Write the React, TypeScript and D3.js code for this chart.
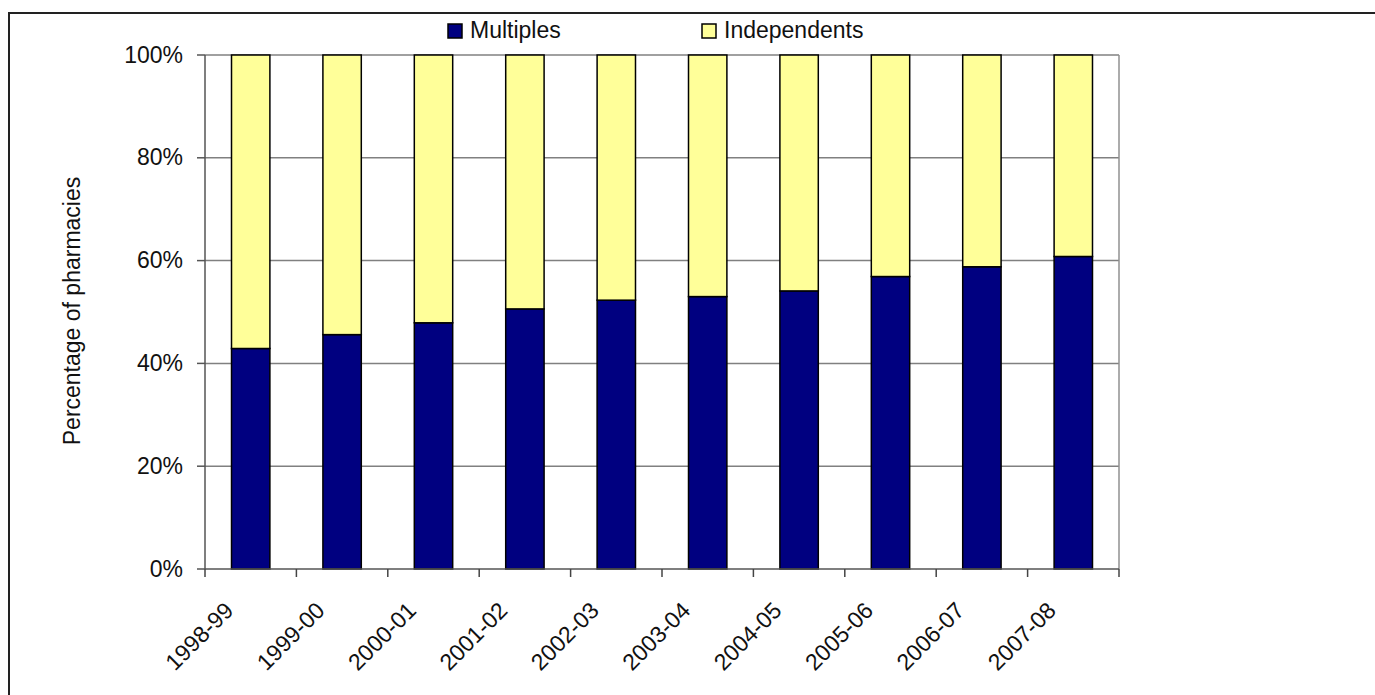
import React, { useEffect, useRef } from "react";
import * as d3 from "d3";

const years = [
  "1998-99",
  "1999-00",
  "2000-01",
  "2001-02",
  "2002-03",
  "2003-04",
  "2004-05",
  "2005-06",
  "2006-07",
  "2007-08",
];
const multiples = [42.9, 45.6, 47.9, 50.6, 52.3, 53.0, 54.1, 56.9, 58.8, 60.8];
const independents = [57.1, 54.4, 52.1, 49.4, 47.7, 47.0, 45.9, 43.1, 41.2, 39.2];
const yTicks = [0, 20, 40, 60, 80, 100];

const width = 1375;
const height = 695;
const font = "'Liberation Sans', Arial, sans-serif";

export default function App() {
  const ref = useRef<SVGSVGElement>(null);

  useEffect(() => {
    if (!ref.current) return;
    const svg = d3.select(ref.current);
    svg.selectAll("*").remove();

    const left = 205;
    const right = 1119;
    const top = 55;
    const bottom = 569;

    const x = d3.scaleBand().domain(years).range([left, right]).paddingInner(0.58).paddingOuter(0.29);
    const band = d3.scaleBand().domain(years).range([left, right]);
    const y = d3.scaleLinear().domain([0, 100]).range([bottom, top]);

    // outer chart border, cut off at right and bottom
    svg
      .append("rect")
      .attr("x", 9)
      .attr("y", 13)
      .attr("width", 1420)
      .attr("height", 720)
      .attr("fill", "white")
      .attr("stroke", "#222")
      .attr("stroke-width", 2);

    // gridlines
    svg
      .append("g")
      .selectAll("line")
      .data(yTicks.filter((t) => t > 0))
      .join("line")
      .attr("x1", left)
      .attr("x2", right)
      .attr("y1", (d) => y(d))
      .attr("y2", (d) => y(d))
      .attr("stroke", "#808080")
      .attr("stroke-width", 1.5);

    // right side of plot area
    svg
      .append("line")
      .attr("x1", right)
      .attr("x2", right)
      .attr("y1", top)
      .attr("y2", bottom)
      .attr("stroke", "#909090")
      .attr("stroke-width", 1.5);

    // bars
    const rows = years.map((yr, i) => ({ yr, m: multiples[i], ind: independents[i] }));
    const g = svg.append("g").attr("stroke", "#000").attr("stroke-width", 1.5);
    g.selectAll("rect.m")
      .data(rows)
      .join("rect")
      .attr("class", "m")
      .attr("x", (d) => x(d.yr)!)
      .attr("width", x.bandwidth())
      .attr("y", (d) => y(d.m))
      .attr("height", (d) => y(0) - y(d.m))
      .attr("fill", "#000080");
    g.selectAll("rect.i")
      .data(rows)
      .join("rect")
      .attr("class", "i")
      .attr("x", (d) => x(d.yr)!)
      .attr("width", x.bandwidth())
      .attr("y", (d) => y(d.m + d.ind))
      .attr("height", (d) => y(d.m) - y(d.m + d.ind))
      .attr("fill", "#FFFF99");

    // y axis
    svg
      .append("line")
      .attr("x1", left)
      .attr("x2", left)
      .attr("y1", top)
      .attr("y2", bottom)
      .attr("stroke", "#555")
      .attr("stroke-width", 1.5);
    const yAxis = svg.append("g");
    yAxis
      .selectAll("line")
      .data(yTicks)
      .join("line")
      .attr("x1", left - 8)
      .attr("x2", left)
      .attr("y1", (d) => y(d))
      .attr("y2", (d) => y(d))
      .attr("stroke", "#555")
      .attr("stroke-width", 1.5);
    yAxis
      .selectAll("text")
      .data(yTicks)
      .join("text")
      .attr("x", 183)
      .attr("y", (d) => y(d))
      .attr("dy", "0.33em")
      .attr("text-anchor", "end")
      .attr("font-family", font)
      .attr("font-size", 23)
      .attr("fill", "#111")
      .text((d) => `${d}%`);

    // x axis
    svg
      .append("line")
      .attr("x1", left)
      .attr("x2", right)
      .attr("y1", bottom)
      .attr("y2", bottom)
      .attr("stroke", "#555")
      .attr("stroke-width", 1.5);
    const edges = years.map((yr) => band(yr)!).concat([right]);
    svg
      .append("g")
      .selectAll("line")
      .data(edges)
      .join("line")
      .attr("x1", (d) => d)
      .attr("x2", (d) => d)
      .attr("y1", bottom)
      .attr("y2", bottom + 8)
      .attr("stroke", "#444")
      .attr("stroke-width", 1.5);
    svg
      .append("g")
      .selectAll("text")
      .data(years)
      .join("text")
      .attr("transform", (d) => {
        const cx = band(d)! + band.bandwidth() / 2 - 16;
        return `translate(${cx},612) rotate(-45)`;
      })
      .attr("text-anchor", "end")
      .attr("font-family", font)
      .attr("font-size", 23)
      .attr("fill", "#111")
      .text((d) => d);

    // y axis title
    svg
      .append("text")
      .attr("transform", "translate(80,311) rotate(-90)")
      .attr("text-anchor", "middle")
      .attr("font-family", font)
      .attr("font-size", 23)
      .attr("fill", "#111")
      .text("Percentage of pharmacies");

    // legend
    const legend = [
      { name: "Multiples", color: "#000080", x: 448 },
      { name: "Independents", color: "#FFFF99", x: 702 },
    ];
    const lg = svg
      .append("g")
      .selectAll("g")
      .data(legend)
      .join("g")
      .attr("transform", (d) => `translate(${d.x},24)`);
    lg.append("rect")
      .attr("width", 14)
      .attr("height", 14)
      .attr("fill", (d) => d.color)
      .attr("stroke", "#000")
      .attr("stroke-width", 1.5);
    lg.append("text")
      .attr("x", 22)
      .attr("y", 14)
      .attr("font-family", font)
      .attr("font-size", 23)
      .attr("fill", "#111")
      .text((d) => d.name);
  }, []);

  return (
    <svg
      ref={ref}
      width={width}
      height={height}
      style={{ position: "absolute", left: 0, top: 0, background: "white" }}
    />
  );
}
